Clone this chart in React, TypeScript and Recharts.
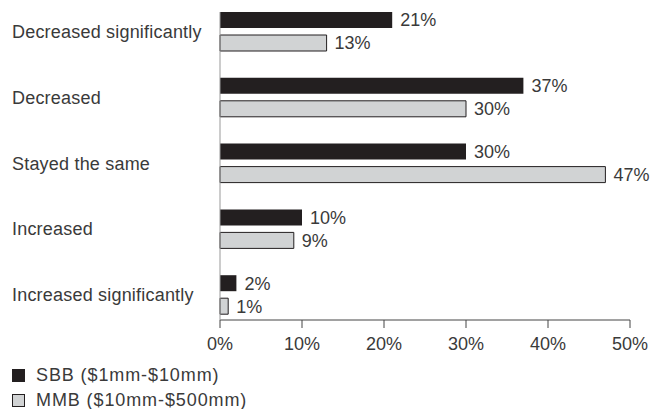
import React from 'react'
import { BarChart, Bar, XAxis, YAxis, LabelList } from 'recharts'

const categories = [
  'Decreased significantly',
  'Decreased',
  'Stayed the same',
  'Increased',
  'Increased significantly',
]
const sbbValues = [21, 37, 30, 10, 2]
const mmbValues = [13, 30, 47, 9, 1]
const xTicks = [0, 10, 20, 30, 40, 50]

const SBB_LABEL = 'SBB ($1mm-$10mm)'
const MMB_LABEL = 'MMB ($10mm-$500mm)'

const data = categories.map((name, i) => ({ name, sbb: sbbValues[i], mmb: mmbValues[i] }))

const FONT = '"Liberation Sans", Arial, sans-serif'
const TEXT = '#3a3a3a'
const DARK = '#231f20'
const LIGHT = '#d1d3d4'

function CategoryTick(props: any) {
  const { y, payload } = props
  return (
    <text
      x={12}
      y={y}
      textAnchor="start"
      dominantBaseline="central"
      fill={TEXT}
      fontSize={18}
      fontFamily={FONT}
      letterSpacing={0.2}
    >
      {payload.value}
    </text>
  )
}

const pct = (v: any) => `${v}%`

export default function App() {
  return (
    <div style={{ position: 'absolute', left: 0, top: 0, width: 651, height: 409, background: '#fff', fontFamily: FONT }}>
      <BarChart
        width={651}
        height={409}
        data={data}
        layout="vertical"
        margin={{ top: 12, right: 21, bottom: 59, left: 0 }}
        barSize={16}
        barGap={7}
      >
        <XAxis
          type="number"
          domain={[0, 50]}
          ticks={xTicks}
          tickFormatter={pct}
          tickSize={8}
          tickMargin={9}
          height={30}
          stroke="#444"
          tick={{ fill: TEXT, fontSize: 18, fontFamily: FONT }}
          interval={0}
        />
        <YAxis
          type="category"
          dataKey="name"
          width={220}
          tickLine={false}
          stroke="#999"
          padding={{ top: -13, bottom: -8 }}
          tick={<CategoryTick />}
          interval={0}
        />
        <Bar dataKey="sbb" fill={DARK} isAnimationActive={false}>
          <LabelList dataKey="sbb" position="right" offset={8} formatter={pct} fill={TEXT} fontSize={18} fontFamily={FONT} />
        </Bar>
        <Bar dataKey="mmb" fill={LIGHT} stroke={DARK} strokeWidth={1} isAnimationActive={false}>
          <LabelList dataKey="mmb" position="right" offset={8} formatter={pct} fill={TEXT} fontSize={18} fontFamily={FONT} stroke="none" />
        </Bar>
      </BarChart>
      <div style={{ position: 'absolute', left: 12, top: 363, fontSize: 18, color: TEXT, lineHeight: '25px', letterSpacing: 0.9 }}>
        <div style={{ display: 'flex', alignItems: 'center' }}>
          <span style={{ display: 'inline-block', width: 13, height: 13, background: DARK, marginRight: 11 }} />
          {SBB_LABEL}
        </div>
        <div style={{ display: 'flex', alignItems: 'center' }}>
          <span style={{ display: 'inline-block', width: 11, height: 11, background: LIGHT, border: `1px solid ${DARK}`, marginRight: 11 }} />
          {MMB_LABEL}
        </div>
      </div>
    </div>
  )
}
